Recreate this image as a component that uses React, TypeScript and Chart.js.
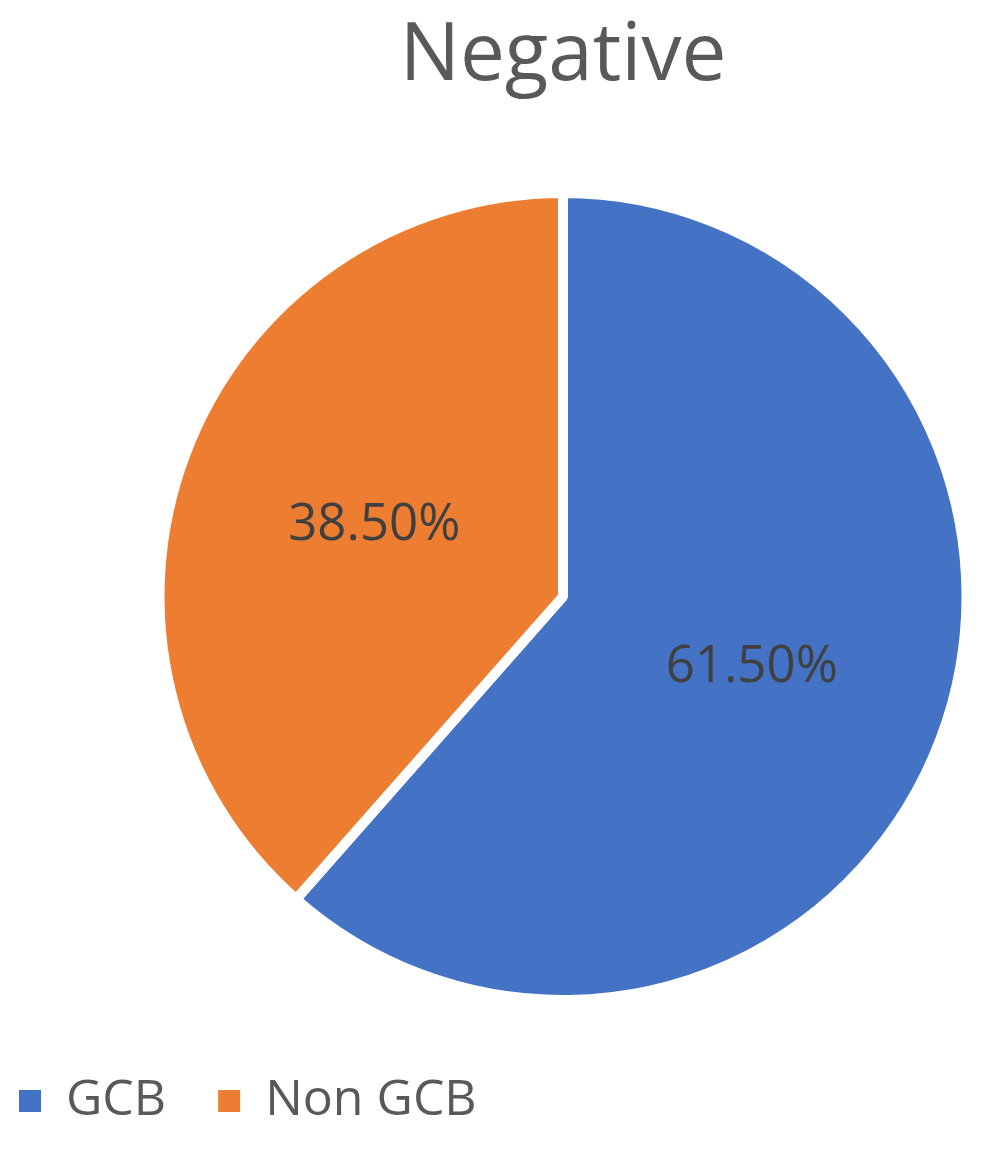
import React, { useEffect, useRef } from 'react';
import { Chart, registerables, layouts } from 'chart.js';

Chart.register(...registerables);

const chartTitle = 'Negative';
const categories = ['GCB', 'Non GCB'];
const shares = [61.5, 38.5];
const sliceColors = ['#4472C4', '#ED7D31'];

const FONT = '"Open Sans", "Noto Sans", sans-serif';

const leftSpacer = {
  id: 'leftSpacer',
  beforeInit(chart: any) {
    const box: any = {
      position: 'left',
      fullSize: false,
      weight: 0,
      options: {},
      left: 0,
      top: 0,
      right: 0,
      bottom: 0,
      width: 0,
      height: 0,
      isHorizontal() {
        return false;
      },
      update(_maxWidth: number, maxHeight: number) {
        this.width = 173;
        this.height = maxHeight;
      },
      draw() {},
    };
    layouts.addBox(chart, box);
  },
};

const sliceLabels = {
  id: 'sliceLabels',
  afterDatasetsDraw(chart: any) {
    const ctx = chart.ctx;
    const meta = chart.getDatasetMeta(0);
    ctx.save();
    ctx.font = `51px ${FONT}`;
    ctx.fillStyle = '#404040';
    ctx.textAlign = 'center';
    ctx.textBaseline = 'middle';
    meta.data.forEach((arc: any, i: number) => {
      const p = arc.tooltipPosition(false);
      ctx.fillText(shares[i].toFixed(2) + '%', p.x, p.y);
    });
    ctx.restore();
  },
};

export default function App() {
  const ref = useRef<HTMLCanvasElement | null>(null);

  useEffect(() => {
    if (!ref.current) return;
    const chart = new Chart(ref.current, {
      type: 'pie',
      data: {
        labels: categories,
        datasets: [
          {
            data: shares,
            backgroundColor: sliceColors,
            borderColor: '#ffffff',
            borderWidth: 10,
            radius: 403.5,
          } as any,
        ],
      },
      options: {
        animation: false,
        responsive: false,
        layout: { padding: 0 },
        plugins: {
          title: {
            display: true,
            text: chartTitle,
            fullSize: false,
            color: '#595959',
            font: { family: FONT, size: 80, weight: 'normal', lineHeight: 1.2 },
            padding: { top: 9, bottom: 64 },
          },
          legend: {
            position: 'bottom',
            align: 'start',
            labels: {
              boxWidth: 22,
              boxHeight: 22,
              padding: 52,
              color: '#595959',
              font: { family: FONT, size: 50 },
              generateLabels: () =>
                categories.map((c, i) => ({
                  text: c,
                  fillStyle: sliceColors[i],
                  strokeStyle: sliceColors[i],
                  lineWidth: 0,
                  hidden: false,
                  index: i,
                  fontColor: '#595959',
                })),
            },
          },
          tooltip: { enabled: false },
        },
      } as any,
      plugins: [leftSpacer, sliceLabels],
    });
    return () => chart.destroy();
  }, []);

  return (
    <div style={{ position: 'fixed', left: -33, top: 0, width: 1019, height: 1136 }}>
      <canvas ref={ref} width={1019} height={1136} style={{ display: 'block' }} />
    </div>
  );
}
